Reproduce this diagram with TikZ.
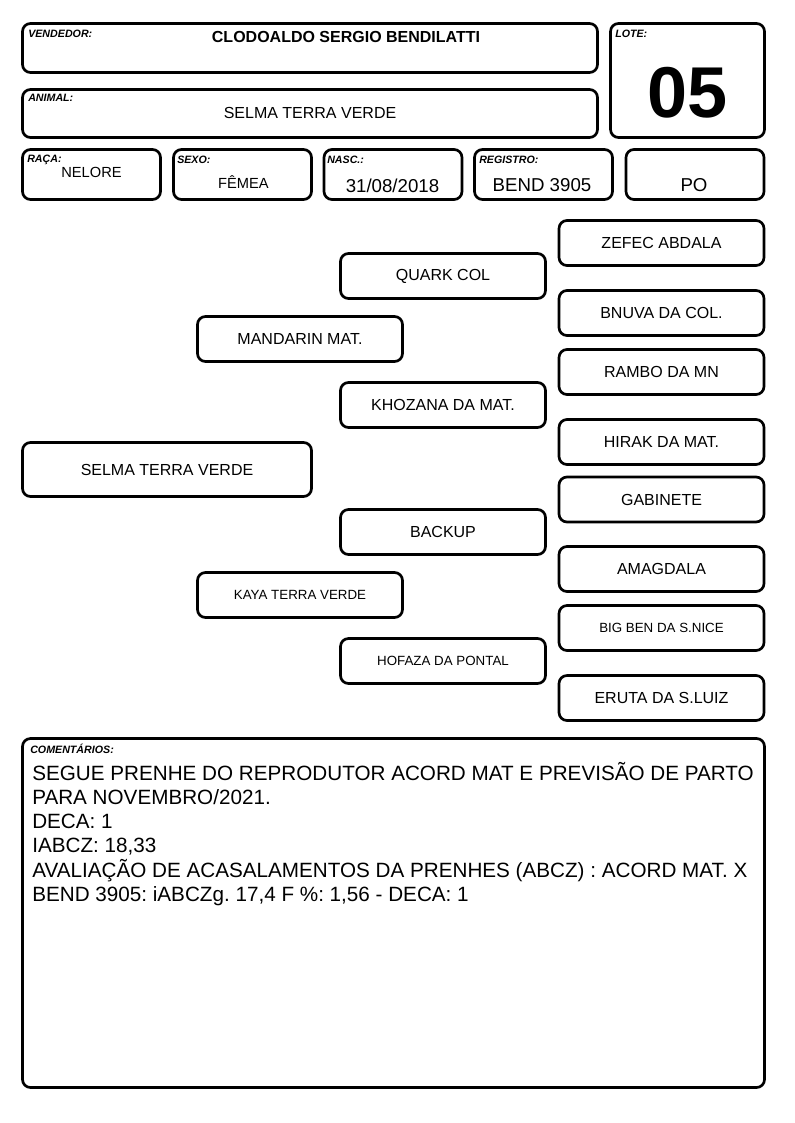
\documentclass[tikz,border=0pt]{standalone}
\usepackage{fontspec}
\setmainfont{Liberation Sans}
\frenchspacing
\tikzset{
  cell/.style 2 args={draw, line width=2pt, rounded corners=6pt, inner sep=0pt,
    minimum width=#1*0.75pt, minimum height=#2*0.75pt},
  tag/.style={anchor=base west, inner sep=0pt, font=\fontsize{8}{9}\selectfont\bfseries\itshape},
  val/.style={anchor=base, inner sep=0pt},
  horse/.style={cell={205}{45}, font=\fontsize{12}{14}\selectfont},
  horsesm/.style={cell={205}{45}, font=\fontsize{10}{12}\selectfont},
}

\begin{document}
\begin{tikzpicture}[x=0.75pt, y=-0.75pt]
  \useasboundingbox (0,0) rectangle (794,1123);

  % header
  \node[cell={575}{49}] (vend) at (310, 48) {};
  \node[cell={154}{114}] (lote) at (687.5, 80.5) {};
  \node[cell={575}{48}] (anim) at (310, 113.5) {};
  \node[cell={138}{50}] (raca) at (91.5, 174.5) {};
  \node[cell={138}{50}] (sexo) at (242.5, 174.5) {};
  \node[cell={138}{50}] (nasc) at (393, 174.5) {};
  \node[cell={138}{50}] (reg) at (543.5, 174.5) {};
  \node[cell={138}{50}] (cat) at (695, 174.5) {};

  \node[tag] (vendT) at (28, 38) {VENDEDOR:};
  \node[val, font=\fontsize{12}{14}\selectfont\bfseries] (vendV) at (346, 43) {CLODOALDO SERGIO BENDILATTI};
  \node[tag] (loteT) at (615, 38) {LOTE:};
  \node[val, font=\fontsize{54}{60}\selectfont\bfseries] (loteV) at (687.5, 118) {05};
  \node[tag] (animT) at (28, 102) {ANIMAL:};
  \node[val, font=\fontsize{12}{14}\selectfont] (animV) at (310, 119) {SELMA TERRA VERDE};
  \node[tag] (racaT) at (27, 163) {RAÇA:};
  \node[val, font=\fontsize{11}{13}\selectfont] (racaV) at (91.5, 178) {NELORE};
  \node[tag] (sexoT) at (177, 164) {SEXO:};
  \node[val, font=\fontsize{11}{13}\selectfont] (sexoV) at (243.5, 189) {FÊMEA};
  \node[tag] (nascT) at (327, 164) {NASC.:};
  \node[val, font=\fontsize{14}{16}\selectfont] (nascV) at (392.5, 193) {31/08/2018};
  \node[tag] (regT) at (479, 164) {REGISTRO:};
  \node[val, font=\fontsize{14}{16}\selectfont] (regV) at (542, 192) {BEND 3905};
  \node[val, font=\fontsize{14}{16}\selectfont] (catV) at (694, 192) {PO};

  % pedigree
  \node[cell={289}{54}, font=\fontsize{12}{14}\selectfont] (p0) at (167, 469.5) {SELMA TERRA VERDE};
  \node[horse] (p1) at (300, 339) {MANDARIN MAT.};
  \node[horsesm] (p2) at (300, 595) {KAYA TERRA VERDE};
  \node[horse] (p11) at (443, 276) {QUARK COL};
  \node[horse] (p12) at (443, 405) {KHOZANA DA MAT.};
  \node[horse] (p21) at (443, 532) {BACKUP};
  \node[horsesm] (p22) at (443, 661) {HOFAZA DA PONTAL};
  \node[horse] (p111) at (661.5, 243) {ZEFEC ABDALA};
  \node[horse] (p112) at (661.5, 313) {BNUVA DA COL.};
  \node[horse] (p121) at (661.5, 372) {RAMBO DA MN};
  \node[horse] (p122) at (661.5, 442) {HIRAK DA MAT.};
  \node[horse] (p211) at (661.5, 499.5) {GABINETE};
  \node[horse] (p212) at (661.5, 569) {AMAGDALA};
  \node[horsesm] (p221) at (661.5, 628) {BIG BEN DA S.NICE};
  \node[horse] (p222) at (661.5, 698) {ERUTA DA S.LUIZ};

  % comments (base = last line)
  \node[cell={742}{349}] (com) at (393.5, 913) {};
  \node[tag] (comT) at (30, 753) {COMENTÁRIOS:};
  \node[anchor=base west, inner sep=0pt, align=left, font=\fontsize{15.5}{18.2}\selectfont] (comV) at (32, 901.5)
    {SEGUE PRENHE DO REPRODUTOR ACORD MAT E PREVISÃO DE PARTO\\
     PARA NOVEMBRO/2021.\\
     DECA: 1\\
     IABCZ: 18,33\\
     AVALIAÇÃO DE ACASALAMENTOS DA PRENHES (ABCZ) : ACORD MAT. X\\
     BEND 3905: iABCZg. 17,4 F \%: 1,56 - DECA: 1};
\end{tikzpicture}
\end{document}
